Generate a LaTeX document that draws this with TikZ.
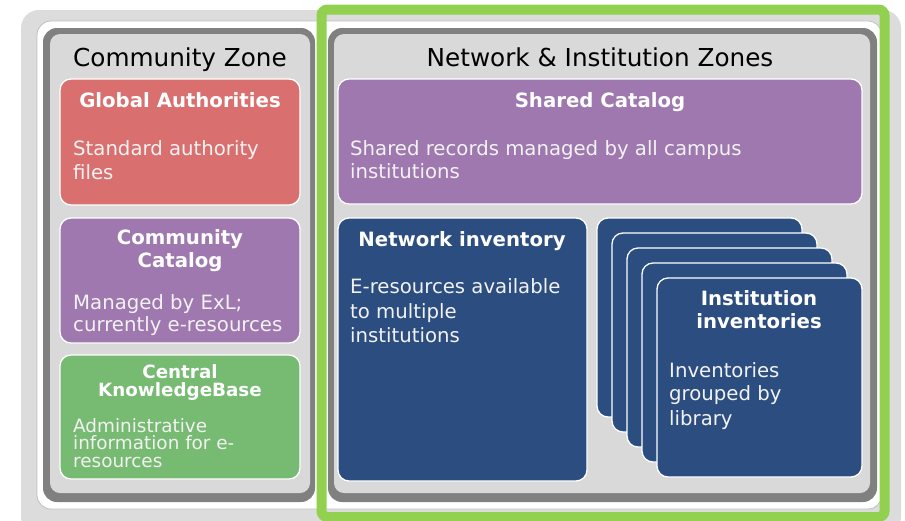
\documentclass[tikz,border=0pt]{standalone}
\usepackage{fontspec}
\setmainfont{DejaVu Sans}
\definecolor{redbox}{HTML}{D9706F}
\definecolor{purplebox}{HTML}{9E78AE}
\definecolor{greenbox}{HTML}{77BA72}
\definecolor{bluebox}{HTML}{2C4D80}
\definecolor{panelgray}{HTML}{D9D9D9}
\definecolor{framegray}{HTML}{808080}
\definecolor{outergray}{HTML}{DCDCDC}
\definecolor{highlight}{HTML}{92D050}
\definecolor{bodytext}{HTML}{F2F2F2}
\begin{document}
\begin{tikzpicture}[x=1pt,y=-1pt,
  zonetitle/.style={font=\fontsize{24.7}{30}\selectfont, text=black, anchor=base, inner sep=0pt},
  boxtitle/.style={font=\bfseries\fontsize{19.7}{24}\selectfont, text=white, anchor=base, inner sep=0pt},
  smalltitle/.style={font=\bfseries\fontsize{18.3}{20}\selectfont, text=white, anchor=base, inner sep=0pt},
  boxbody/.style={font=\fontsize{19.7}{24}\selectfont, text=bodytext, anchor=base west, inner sep=0pt},
  smallbody/.style={font=\fontsize{18.4}{20}\selectfont, text=bodytext, anchor=base west, inner sep=0pt},
  panel/.style={draw=white, line width=1.3pt, rounded corners=11pt},
  zoneframe/.style={fill=framegray, rounded corners=14pt},
  zoneinner/.style={fill=panelgray, rounded corners=10pt}
]
\useasboundingbox (0,0) rectangle (905,520);
% background layers
\fill[outergray, rounded corners=18pt] (21,10) rectangle (901,535);
\draw[fill=white, draw=black!25, line width=0.8pt, rounded corners=14pt] (37,21) rectangle (882,509);
% zone frames
\fill[zoneframe] (43,28) rectangle (315,502);
\fill[zoneinner] (50,34) rectangle (310,493);
\fill[zoneframe] (328,28) rectangle (877,502);
\fill[zoneinner] (334,34) rectangle (870,493);
% highlight border
\draw[highlight, line width=10pt, rounded corners=6pt] (321.5,9.5) rectangle (884.5,517);
% community zone panels
\path[panel, fill=redbox] (60,79) rectangle (300,205);
\path[panel, fill=purplebox] (60,218) rectangle (300,343);
\path[panel, fill=greenbox] (60,355) rectangle (300,479);
% network & institution panels
\path[panel, fill=purplebox] (338,79) rectangle (862,204);
\path[panel, fill=bluebox] (338,218) rectangle (587,481);
\path[panel, fill=bluebox] (597,218) rectangle (802,417);
\path[panel, fill=bluebox] (612,233) rectangle (817,432);
\path[panel, fill=bluebox] (627,248) rectangle (832,447);
\path[panel, fill=bluebox] (642,263) rectangle (847,462);
\path[panel, fill=bluebox] (657,278) rectangle (862,477);
% titles
\node[zonetitle] (cztitle) at (180,66) {Community Zone};
\node[zonetitle] (niztitle) at (600,66) {Network \& Institution Zones};
% global authorities
\node[boxtitle] (gat) at (180,107) {Global Authorities};
\node[boxbody] (gab1) at (73,155) {Standard authority};
\node[boxbody] (gab2) at (73,179) {files};
% community catalog
\node[boxtitle] (cct1) at (180,244) {Community};
\node[boxtitle] (cct2) at (180,267) {Catalog};
\node[boxbody] (ccb1) at (73,309) {Managed by ExL;};
\node[boxbody] (ccb2) at (73,331) {currently e-resources};
% central knowledgebase
\node[smalltitle] (ckt1) at (180,378) {Central};
\node[smalltitle] (ckt2) at (180,396) {KnowledgeBase};
\node[smallbody] (ckb1) at (73,432) {Administrative};
\node[smallbody] (ckb2) at (73,449.5) {information for e-};
\node[smallbody] (ckb3) at (73,467) {resources};
% shared catalog
\node[boxtitle] (sct) at (600,107) {Shared Catalog};
\node[boxbody] (scb1) at (350,155) {Shared records managed by all campus};
\node[boxbody] (scb2) at (350,178) {institutions};
% network inventory
\node[boxtitle] (nit) at (462,246) {Network inventory};
\node[boxbody] (nib1) at (350,293) {E-resources available};
\node[boxbody] (nib2) at (350,318) {to multiple};
\node[boxbody] (nib3) at (350,342) {institutions};
% institution inventories
\node[boxtitle] (iit1) at (759,305) {Institution};
\node[boxtitle] (iit2) at (759,328) {inventories};
\node[boxbody] (iib1) at (669,377) {Inventories};
\node[boxbody] (iib2) at (669,400.5) {grouped by};
\node[boxbody] (iib3) at (669,425) {library};
\end{tikzpicture}
\end{document}
